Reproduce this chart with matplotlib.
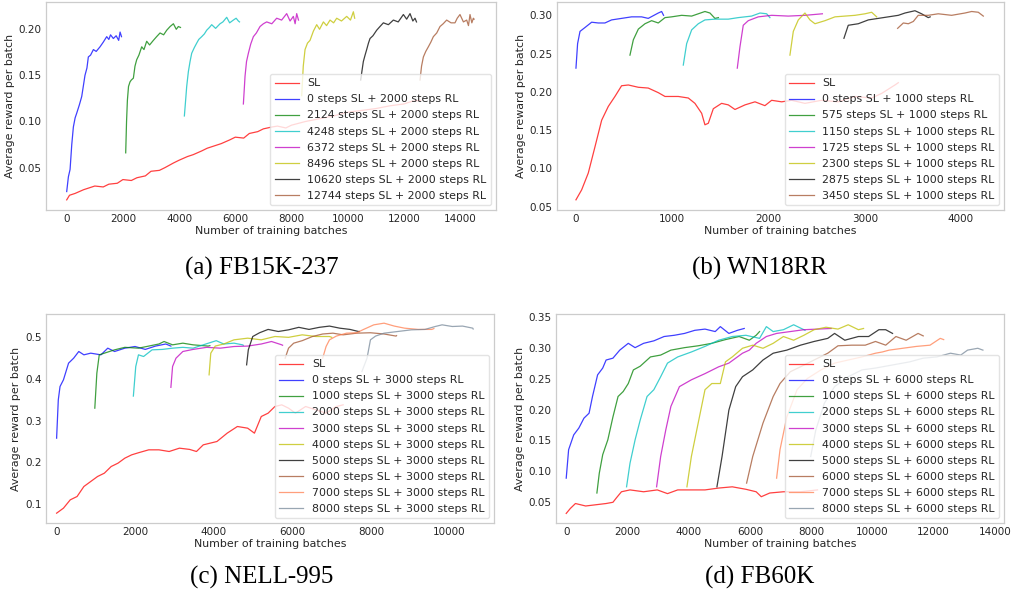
import numpy as np
import matplotlib.pyplot as plt

# ---------------- (a) FB15K-237 ----------------
a_labels = ["SL", "0 steps SL + 2000 steps RL", "2124 steps SL + 2000 steps RL",
            "4248 steps SL + 2000 steps RL", "6372 steps SL + 2000 steps RL",
            "8496 steps SL + 2000 steps RL", "10620 steps SL + 2000 steps RL",
            "12744 steps SL + 2000 steps RL"]
a_sl_x = [0, 100, 300, 600, 800, 1000, 1300, 1500, 1800, 2000, 2300, 2500, 2800, 3000, 3300, 3500, 3800, 4000,
          4300, 4500, 4800, 5000, 5300, 5500, 5800, 6000, 6300, 6500, 6800, 7000, 7300, 7500, 7800, 8000,
          8500, 9000, 9500, 10000, 10500, 11000, 11500, 12000, 12300, 12600]
a_sl_y = [0.015, 0.020, 0.022, 0.026, 0.028, 0.030, 0.029, 0.032, 0.033, 0.037, 0.036, 0.039, 0.041, 0.046,
          0.047, 0.050, 0.055, 0.058, 0.062, 0.064, 0.068, 0.071, 0.074, 0.076, 0.080, 0.083, 0.082, 0.087,
          0.089, 0.092, 0.094, 0.095, 0.093, 0.096, 0.100, 0.103, 0.106, 0.110, 0.112, 0.114, 0.117, 0.119,
          0.122, 0.123]
a_rl_x = [
    [0, 60, 120, 180, 237, 300, 356, 450, 534, 600, 650, 720, 770, 850, 950, 1050, 1186, 1300, 1424, 1500, 1560, 1660, 1760, 1850, 1900, 1950],
    [2100, 2130, 2160, 2200, 2254, 2300, 2373, 2430, 2491, 2570, 2670, 2750, 2847, 2950, 3085, 3200, 3322, 3450, 3560, 3680, 3797, 3900, 3974, 4050],
    [4188, 4230, 4271, 4330, 4390, 4449, 4540, 4627, 4700, 4805, 4900, 4983, 5080, 5161, 5300, 5457, 5560, 5695, 5800, 5932, 6030, 6110, 6150],
    [6288, 6320, 6347, 6400, 6466, 6550, 6644, 6750, 6881, 7000, 7118, 7300, 7474, 7650, 7830, 7950, 8067, 8130, 8186, 8250],
    [8364, 8420, 8483, 8570, 8661, 8780, 8898, 9000, 9136, 9250, 9373, 9500, 9610, 9780, 9966, 10100, 10203, 10250],
    [10464, 10510, 10558, 10620, 10677, 10740, 10796, 10900, 11033, 11150, 11271, 11450, 11627, 11800, 11983, 12100, 12220, 12320, 12398, 12450],
    [12576, 12630, 12695, 12780, 12872, 12960, 13050, 13170, 13287, 13400, 13524, 13680, 13820, 13900, 13998, 14120, 14237, 14300, 14355, 14420, 14474, 14500],
]
a_rl_y = [
    [0.024, 0.040, 0.048, 0.075, 0.094, 0.104, 0.109, 0.118, 0.127, 0.140, 0.150, 0.158, 0.170, 0.172, 0.178, 0.176, 0.181, 0.186, 0.192, 0.189, 0.194, 0.190, 0.193, 0.188, 0.197, 0.192],
    [0.066, 0.100, 0.123, 0.138, 0.143, 0.145, 0.147, 0.160, 0.167, 0.172, 0.181, 0.178, 0.187, 0.183, 0.188, 0.192, 0.196, 0.194, 0.199, 0.203, 0.206, 0.200, 0.203, 0.202],
    [0.106, 0.122, 0.138, 0.154, 0.165, 0.174, 0.180, 0.185, 0.189, 0.192, 0.195, 0.199, 0.202, 0.205, 0.201, 0.206, 0.208, 0.213, 0.207, 0.210, 0.212, 0.209, 0.208],
    [0.119, 0.135, 0.149, 0.165, 0.174, 0.184, 0.192, 0.196, 0.203, 0.206, 0.208, 0.206, 0.212, 0.210, 0.217, 0.209, 0.214, 0.206, 0.217, 0.210],
    [0.128, 0.160, 0.178, 0.185, 0.188, 0.198, 0.205, 0.200, 0.208, 0.204, 0.210, 0.207, 0.212, 0.209, 0.214, 0.210, 0.219, 0.212],
    [0.145, 0.155, 0.165, 0.172, 0.178, 0.185, 0.190, 0.193, 0.199, 0.203, 0.207, 0.205, 0.210, 0.208, 0.216, 0.211, 0.217, 0.209, 0.212, 0.208],
    [0.145, 0.160, 0.170, 0.176, 0.181, 0.186, 0.192, 0.196, 0.203, 0.206, 0.210, 0.207, 0.207, 0.212, 0.216, 0.208, 0.210, 0.204, 0.216, 0.207, 0.212, 0.211],
]

# ---------------- (b) WN18RR ----------------
b_labels = ["SL", "0 steps SL + 1000 steps RL", "575 steps SL + 1000 steps RL",
            "1150 steps SL + 1000 steps RL", "1725 steps SL + 1000 steps RL",
            "2300 steps SL + 1000 steps RL", "2875 steps SL + 1000 steps RL",
            "3450 steps SL + 1000 steps RL"]
b_sl_x = [0, 59, 128, 197, 267, 336, 405, 474, 544, 648, 751, 855, 925, 1063, 1167, 1236, 1306, 1340, 1375,
          1427, 1513, 1583, 1652, 1756, 1860, 1963, 2033, 2137, 2241, 2379, 2552, 2725, 2899, 3072, 3176, 3314, 3349]
b_sl_y = [0.059, 0.072, 0.094, 0.128, 0.163, 0.181, 0.194, 0.208, 0.209, 0.206, 0.205, 0.199, 0.194, 0.194,
          0.192, 0.185, 0.172, 0.157, 0.159, 0.178, 0.185, 0.183, 0.177, 0.183, 0.187, 0.182, 0.189, 0.187,
          0.189, 0.185, 0.189, 0.187, 0.194, 0.192, 0.198, 0.209, 0.212]
b_rl_x = [
    [0, 17, 42, 93, 163, 232, 301, 370, 474, 578, 682, 751, 855, 890, 910],
    [561, 596, 648, 717, 786, 855, 925, 994, 1098, 1202, 1271, 1340, 1392, 1444, 1480],
    [1115, 1150, 1202, 1271, 1340, 1444, 1583, 1686, 1825, 1912, 1981, 2015],
    [1676, 1704, 1738, 1790, 1894, 2033, 2206, 2379, 2470, 2560],
    [2223, 2258, 2310, 2379, 2431, 2483, 2587, 2691, 2795, 2899, 3003, 3072, 3124],
    [2784, 2829, 2933, 3037, 3141, 3245, 3349, 3418, 3522, 3591, 3660, 3680],
    [3342, 3401, 3453, 3505, 3556, 3660, 3764, 3903, 4041, 4111, 4180, 4232],
]
b_rl_y = [
    [0.231, 0.263, 0.279, 0.284, 0.291, 0.290, 0.290, 0.294, 0.296, 0.298, 0.298, 0.296, 0.303, 0.305, 0.300],
    [0.248, 0.268, 0.282, 0.289, 0.293, 0.290, 0.297, 0.298, 0.300, 0.299, 0.302, 0.305, 0.303, 0.296, 0.297],
    [0.235, 0.263, 0.281, 0.289, 0.294, 0.295, 0.295, 0.297, 0.299, 0.303, 0.302, 0.297],
    [0.231, 0.259, 0.287, 0.293, 0.298, 0.300, 0.299, 0.300, 0.301, 0.302],
    [0.248, 0.279, 0.294, 0.303, 0.294, 0.289, 0.293, 0.298, 0.299, 0.300, 0.302, 0.304, 0.298],
    [0.270, 0.287, 0.289, 0.294, 0.296, 0.298, 0.300, 0.303, 0.306, 0.302, 0.297, 0.298],
    [0.283, 0.290, 0.289, 0.292, 0.300, 0.300, 0.302, 0.300, 0.303, 0.305, 0.304, 0.299],
]

# ---------------- (c) NELL-995 ----------------
c_labels = ["SL"] + ["%d steps SL + 3000 steps RL" % s for s in range(0, 9000, 1000)]
c_sl_x = [0, 174, 347, 521, 694, 868, 1042, 1215, 1389, 1562, 1736, 1910, 2083, 2344, 2604, 2864, 3125, 3385,
          3559, 3732, 3906, 4080, 4340, 4600, 4861, 5034, 5208, 5382, 5555, 5729, 5902, 6076, 6336, 6597,
          6857, 7118, 7291]
c_sl_y = [0.078, 0.090, 0.110, 0.118, 0.142, 0.154, 0.166, 0.174, 0.190, 0.198, 0.210, 0.218, 0.223, 0.230,
          0.230, 0.226, 0.234, 0.231, 0.226, 0.242, 0.246, 0.250, 0.270, 0.286, 0.282, 0.270, 0.310, 0.318,
          0.334, 0.338, 0.330, 0.318, 0.334, 0.326, 0.318, 0.334, 0.338]
c_rl_x = [
    [0, 43, 87, 174, 304, 434, 564, 694, 868, 1128, 1302, 1476, 1736, 1996, 2257, 2517, 2778, 2908],
    [972, 1024, 1085, 1215, 1476, 1736, 2083, 2344, 2604, 2734, 2951, 3212, 3472, 3854, 3900],
    [1953, 2014, 2083, 2213, 2430, 2691, 2951, 3212, 3472, 3732, 4062, 4253, 4514, 4731, 4750],
    [2908, 2951, 3038, 3212, 3472, 3819, 4166, 4514, 4861, 5208, 5468, 5729, 5750],
    [3880, 3923, 4036, 4253, 4514, 4861, 5208, 5555, 5902, 6250, 6597, 6944, 7000],
    [4835, 4878, 4991, 5165, 5382, 5642, 5902, 6163, 6423, 6684, 6944, 7204, 7465, 7682, 7700],
    [5816, 5902, 6033, 6250, 6510, 6770, 7031, 7291, 7638, 7986, 8333, 8637, 8650],
    [6770, 6857, 6944, 7118, 7378, 7638, 7812, 8072, 8333, 8593, 8854, 9201, 9548, 9600],
    [7769, 7899, 7986, 8116, 8333, 8680, 9027, 9375, 9635, 9809, 10069, 10330, 10590, 10600],
]
c_rl_y = [
    [0.258, 0.350, 0.382, 0.398, 0.438, 0.450, 0.466, 0.458, 0.462, 0.458, 0.474, 0.466, 0.474, 0.478, 0.471, 0.479, 0.484, 0.479],
    [0.330, 0.414, 0.458, 0.462, 0.470, 0.476, 0.474, 0.479, 0.484, 0.490, 0.482, 0.486, 0.482, 0.479, 0.480],
    [0.359, 0.430, 0.458, 0.454, 0.470, 0.471, 0.474, 0.476, 0.474, 0.482, 0.492, 0.484, 0.486, 0.482, 0.481],
    [0.380, 0.430, 0.450, 0.466, 0.471, 0.476, 0.474, 0.478, 0.479, 0.484, 0.490, 0.482, 0.481],
    [0.410, 0.462, 0.479, 0.484, 0.494, 0.498, 0.494, 0.502, 0.500, 0.506, 0.502, 0.502, 0.500],
    [0.434, 0.470, 0.502, 0.511, 0.519, 0.514, 0.518, 0.524, 0.519, 0.524, 0.527, 0.522, 0.519, 0.514, 0.514],
    [0.450, 0.474, 0.486, 0.492, 0.502, 0.508, 0.510, 0.506, 0.510, 0.511, 0.508, 0.503, 0.504],
    [0.450, 0.478, 0.494, 0.503, 0.510, 0.511, 0.519, 0.530, 0.534, 0.527, 0.522, 0.519, 0.519, 0.521],
    [0.418, 0.450, 0.494, 0.503, 0.510, 0.514, 0.518, 0.519, 0.526, 0.530, 0.526, 0.527, 0.522, 0.520],
]

# ---------------- (d) FB60K ----------------
d_labels = ["SL"] + ["%d steps SL + 6000 steps RL" % s for s in range(0, 9000, 1000)]
d_sl_x = [0, 134, 301, 635, 969, 1303, 1526, 1637, 1804, 2083, 2528, 2974, 3308, 3642, 4088, 4533, 4979,
          5424, 5870, 6204, 6371, 6649, 7095, 7651, 8208]
d_sl_y = [0.032, 0.040, 0.048, 0.044, 0.046, 0.048, 0.050, 0.057, 0.067, 0.070, 0.067, 0.070, 0.064, 0.070,
          0.070, 0.070, 0.073, 0.075, 0.071, 0.067, 0.059, 0.065, 0.067, 0.067, 0.070]
d_rl_x = [
    [0, 78, 245, 412, 579, 746, 858, 1025, 1192, 1303, 1526, 1749, 2027, 2250, 2528, 2862, 3197, 3531, 3865, 4199, 4533, 4867, 5034, 5313, 5591, 5814],
    [1002, 1080, 1192, 1359, 1526, 1693, 1860, 2027, 2194, 2417, 2751, 3085, 3419, 3865, 4310, 4756, 5201, 5647, 5981, 6204, 6315],
    [1971, 2083, 2250, 2417, 2640, 2862, 3085, 3308, 3642, 4088, 4533, 4979, 5424, 5870, 6315, 6538, 6760, 7095, 7429, 7763, 7800],
    [2952, 3085, 3252, 3419, 3698, 4088, 4533, 4979, 5313, 5536, 5758, 5981, 6204, 6538, 6872, 7318, 7763, 8208, 8654],
    [3943, 4088, 4310, 4533, 4756, 5034, 5201, 5424, 5758, 6092, 6427, 6760, 7095, 7429, 7763, 8097, 8487, 8877, 9211, 9545, 9712],
    [4923, 5090, 5313, 5536, 5758, 6092, 6427, 6760, 7206, 7651, 8097, 8543, 8766, 9100, 9545, 9879, 10213, 10436, 10659],
    [5892, 6092, 6427, 6760, 6983, 7318, 7651, 8097, 8543, 8877, 9323, 9768, 10102, 10436, 10770, 11104, 11494, 11661],
    [6872, 6983, 7206, 7540, 7874, 8320, 8766, 9211, 9657, 10102, 10325, 10548, 10993, 11439, 11884, 12218, 12330],
    [7986, 8153, 8431, 8766, 9211, 9657, 10102, 10659, 11216, 11661, 12107, 12552, 12887, 13110, 13444, 13611],
]
d_rl_y = [
    [0.089, 0.135, 0.159, 0.170, 0.186, 0.194, 0.221, 0.256, 0.267, 0.280, 0.283, 0.296, 0.307, 0.300, 0.307, 0.311, 0.318, 0.320, 0.323, 0.328, 0.330, 0.326, 0.334, 0.323, 0.328, 0.331],
    [0.065, 0.097, 0.127, 0.151, 0.188, 0.221, 0.229, 0.242, 0.264, 0.270, 0.285, 0.288, 0.296, 0.300, 0.303, 0.307, 0.313, 0.318, 0.312, 0.320, 0.326],
    [0.075, 0.113, 0.151, 0.183, 0.221, 0.232, 0.253, 0.275, 0.285, 0.293, 0.302, 0.312, 0.318, 0.320, 0.315, 0.334, 0.326, 0.329, 0.337, 0.329, 0.328],
    [0.075, 0.124, 0.167, 0.205, 0.237, 0.248, 0.258, 0.269, 0.275, 0.283, 0.291, 0.296, 0.307, 0.318, 0.323, 0.326, 0.329, 0.330, 0.331],
    [0.075, 0.124, 0.178, 0.232, 0.242, 0.242, 0.277, 0.285, 0.299, 0.304, 0.299, 0.307, 0.318, 0.312, 0.320, 0.329, 0.333, 0.330, 0.337, 0.329, 0.331],
    [0.075, 0.124, 0.199, 0.237, 0.253, 0.264, 0.280, 0.291, 0.296, 0.304, 0.310, 0.315, 0.323, 0.312, 0.318, 0.318, 0.329, 0.329, 0.323],
    [0.081, 0.124, 0.178, 0.221, 0.242, 0.261, 0.269, 0.280, 0.291, 0.303, 0.304, 0.304, 0.310, 0.304, 0.318, 0.312, 0.323, 0.319],
    [0.089, 0.135, 0.188, 0.232, 0.250, 0.264, 0.275, 0.280, 0.285, 0.291, 0.293, 0.296, 0.299, 0.302, 0.304, 0.315, 0.313],
    [0.124, 0.167, 0.210, 0.237, 0.253, 0.264, 0.267, 0.272, 0.277, 0.283, 0.285, 0.291, 0.288, 0.296, 0.299, 0.296],
]

colors7 = ['r', 'b', 'g', 'c', 'm', 'y', 'k', 'sienna']
colors9 = colors7 + ['coral', 'lightslategray']

W, H = 1014, 601
fig = plt.figure(figsize=(W / 100, H / 100), dpi=100)


def box(l, r, t, b):
    return [l / W, 1 - b / H, (r - l) / W, (b - t) / H]


panels = [
    (box(46, 496, 2, 210), a_labels, a_sl_x, a_sl_y, a_rl_x, a_rl_y, (-737, 15280), (0.004, 0.2296),
     [0, 2000, 4000, 6000, 8000, 10000, 12000, 14000], [0.05, 0.10, 0.15, 0.20], "%.2f",
     "(a) FB15K-237", 262, 268),
    (box(557, 1004, 2, 210), b_labels, b_sl_x, b_sl_y, b_rl_x, b_rl_y, (-197, 4447), (0.0457, 0.3174),
     [0, 1000, 2000, 3000, 4000], [0.05, 0.10, 0.15, 0.20, 0.25, 0.30], "%.2f",
     "(b) WN18RR", 760, 268),
    (box(46, 494, 314, 523), c_labels, c_sl_x, c_sl_y, c_rl_x, c_rl_y, (-270, 11130), (0.0544, 0.556),
     [0, 2000, 4000, 6000, 8000, 10000], [0.1, 0.2, 0.3, 0.4, 0.5], "%.1f",
     "(c) NELL-995", 262, 577),
    (box(556, 1004, 314, 523), d_labels, d_sl_x, d_sl_y, d_rl_x, d_rl_y, (-334, 14300), (0.0165, 0.3544),
     [0, 2000, 4000, 6000, 8000, 10000, 12000, 14000], [0.05, 0.10, 0.15, 0.20, 0.25, 0.30, 0.35], "%.2f",
     "(d) FB60K", 760, 577),
]

txt = '#262626'
for rect, labels, slx, sly, rlx, rly, xl, yl, xt, yt, fmt, cap, cx, cy in panels:
    ax = fig.add_axes(rect)
    cols = colors7 if len(labels) == 8 else colors9
    ax.plot(slx, sly, color=cols[0], lw=0.9, alpha=0.75, label=labels[0])
    for i in range(len(rlx)):
        ax.plot(rlx[i], rly[i], color=cols[i + 1], lw=0.9, alpha=0.75, label=labels[i + 1])
    ax.set_xlim(*xl)
    ax.set_ylim(*yl)
    ax.set_xticks(xt)
    ax.set_yticks(yt)
    ax.set_yticklabels([fmt % v for v in yt])
    ax.tick_params(length=0, labelsize=7.5, colors=txt, pad=3)
    for s in ax.spines.values():
        s.set_color('#cccccc')
        s.set_linewidth(0.9)
    ax.set_xlabel("Number of training batches", fontsize=7.9, color=txt, labelpad=1)
    ax.set_ylabel("Average reward per batch", fontsize=7.9, color=txt, labelpad=3)
    leg = ax.legend(loc='lower right', fontsize=7.9, frameon=True, labelspacing=0.55,
                    borderaxespad=0.45, handlelength=2.2)
    leg.get_frame().set_edgecolor('#dddddd')
    for t in leg.get_texts():
        t.set_color(txt)
    fig.text(cx / W, 1 - cy / H, cap, ha='center', va='center', fontsize=18,
             family='Liberation Serif')

fig.savefig("out.png", dpi=100)
